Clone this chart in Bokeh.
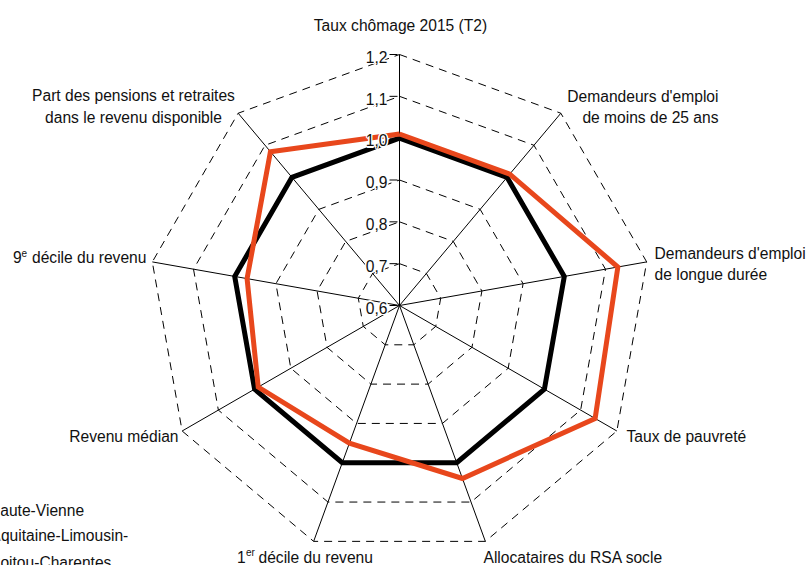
import numpy as np
from bokeh.plotting import figure
from bokeh.models import Range1d
from bokeh.core.properties import value
from bokeh.embed import file_html
from bokeh.resources import INLINE

# ---------------- data ----------------
categories = [
    "Taux chômage 2015 (T2)",
    "Demandeurs d'emploi de moins de 25 ans",
    "Demandeurs d'emploi de longue durée",
    "Taux de pauvreté",
    "Allocataires du RSA socle",
    "1er décile du revenu",
    "Revenu médian",
    "9e décile du revenu",
    "Part des pensions et retraites dans le revenu disponible",
]
haute_vienne = [1.01, 1.01, 1.13, 1.14, 1.04, 0.95, 0.99, 0.97, 1.08]
region = [1.00, 1.00, 1.00, 1.00, 1.00, 1.00, 1.00, 1.00, 1.00]
tick_values = [0.6, 0.7, 0.8, 0.9, 1.0, 1.1, 1.2]
tick_labels = ["0,6", "0,7", "0,8", "0,9", "1,0", "1,1", "1,2"]
series_names = ["Haute-Vienne", "Aquitaine-Limousin-", "Poitou-Charentes"]

# ---------------- layout / style ----------------
W, H = 806, 565
CX, CY = 399, 305          # centre in page px
RADIUS = 251               # px for the full value span
VMIN, VMAX = 0.6, 1.2
FONT = value("Liberation Sans")
FSN = 15.6                 # font size in px
FS = f"{FSN}px"
TXT = "#111111"
RED = "#E8471C"
SHIFT = 0.4                # svg text sits ~0.4em low: compensate

def rad(v):
    return (v - VMIN) / (VMAX - VMIN) * RADIUS

n = len(categories)
ang = np.deg2rad(90 - 40 * np.arange(n))

def poly(vals):
    r = np.array([rad(v) for v in vals])
    xs = list(r * np.cos(ang)) + [r[0] * np.cos(ang[0])]
    ys = list(r * np.sin(ang)) + [r[0] * np.sin(ang[0])]
    return xs, ys

p = figure(width=W, height=H, output_backend="svg", toolbar_location=None,
           x_range=Range1d(0 - CX, W - CX), y_range=Range1d(CY - H, CY),
           min_border=0, outline_line_color=None)
p.axis.visible = False
p.grid.visible = False
p.background_fill_color = "white"

# rings
ring_x, ring_y = [], []
for v in tick_values[1:]:
    xs, ys = poly([v] * n)
    ring_x.append(xs)
    ring_y.append(ys)
p.multi_line(ring_x, ring_y, line_color="black", line_width=1, line_dash="8 6")

# spokes
R = rad(VMAX)
p.segment(x0=[0] * n, y0=[0] * n, x1=list(R * np.cos(ang)), y1=list(R * np.sin(ang)),
          line_color="black", line_width=1)

# ticks on the value axis
ty = [rad(v) for v in tick_values]
p.segment(x0=[-10] * len(ty), y0=ty, x1=[-2] * len(ty), y1=ty, line_color="black", line_width=1)

# series
bx, by = poly(region)
p.line(bx, by, line_color="black", line_width=5, line_join="miter")
rx, ry = poly(haute_vienne)
p.line(rx, ry, line_color=RED, line_width=5, line_join="miter")

# tick labels with white halo
lx = [-12] * len(ty)
ly = [t - 8.5 + SHIFT * FSN for t in ty]
for dx, dy in [(-1.3, 0), (1.3, 0), (0, -1.3), (0, 1.3), (-1, -1), (1, 1), (-1, 1), (1, -1)]:
    p.text(x=[a + dx for a in lx], y=[b + dy for b in ly], text=tick_labels, text_align="right",
           text_baseline="alphabetic", text_font=FONT, text_font_size=FS, text_color="white")
p.text(x=lx, y=ly, text=tick_labels, text_align="right", text_baseline="alphabetic",
       text_font=FONT, text_font_size=FS, text_color=TXT)

# category labels (page baseline coords, alignment)
def label(txt, px, py, align="left", size=FSN, color=TXT):
    x, y = px - CX, CY - py + SHIFT * size
    p.text(x=[x], y=[y], text=[txt], text_align=align, text_baseline="alphabetic",
           text_font=FONT, text_font_size=f"{size}px", text_color=color)

label(categories[0], 400, 31, "center")
label("Demandeurs d'emploi", 718, 102.5, "right")
label("de moins de 25 ans", 718, 123.5, "right")
label("Demandeurs d'emploi", 654, 259, "left")
label("de longue durée", 654, 280, "left")
label(categories[3], 626, 442.5, "left")
label(categories[4], 483, 563, "left")
label("1", 236.5, 563, "left")
label("er", 245.5, 556, "left", size=10)
label("décile du revenu", 258, 563, "left")
label(categories[6], 178, 442.5, "right")
label("9", 12.5, 263, "left")
label("e", 21, 256, "left", size=10)
label("décile du revenu", 31.5, 263, "left")
label("Part des pensions et retraites", 133, 101, "center")
label("dans le revenu disponible", 133, 123, "center")

# legend (partly outside the visible area, as in the reference)
label(series_names[0], -11.5, 516, "left")
label(series_names[1], -10, 541.5, "left")
label(series_names[2], -10.5, 568, "left")

open("out.html", "w").write(file_html(p, INLINE))
